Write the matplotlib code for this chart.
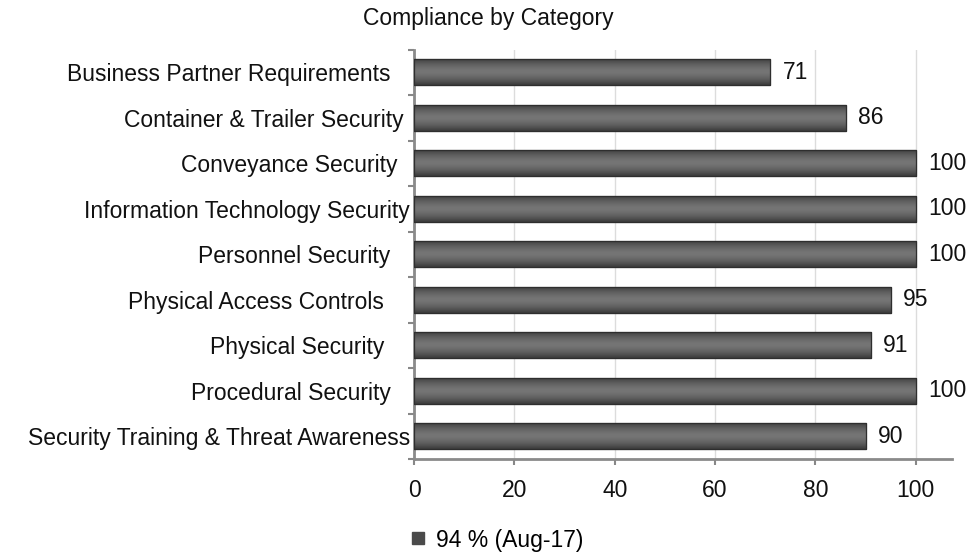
import matplotlib
matplotlib.use("Agg")
import matplotlib.pyplot as plt
import numpy as np
from matplotlib.patches import Rectangle
from matplotlib.lines import Line2D

plt.rcParams['font.family'] = ['Liberation Sans', 'DejaVu Sans']

categories = [
    "Business Partner Requirements   ",
    "Container & Trailer Security ",
    "Conveyance Security  ",
    "Information Technology Security",
    "Personnel Security   ",
    "Physical Access Controls    ",
    "Physical Security    ",
    "Procedural Security   ",
    "Security Training & Threat Awareness",
]
values = [71, 86, 100, 100, 100, 95, 91, 100, 90]
xticks = [0, 20, 40, 60, 80, 100]
title = "Compliance by Category"
legend_label = "94 % (Aug-17)"

FS = 16.5
fig = plt.figure(figsize=(9.71, 5.52), dpi=100)
ax = fig.add_axes([414/971, 1-459/552, (952-414)/971, (459-49.5)/552])

n = len(categories)
y = np.arange(n)
bar_h = 0.58
bars = ax.barh(y, values, height=bar_h, color="#5a5a5a", edgecolor="#2e2e2e", linewidth=0.8, zorder=3)

# cylinder-like gradient shading
grad = np.abs(np.linspace(-1, 1, 64))
shade = 0.46 - 0.23 * grad**1.6
img = np.dstack([shade, shade, shade]).reshape(64, 1, 3)
for b in bars:
    x0, y0 = b.get_x(), b.get_y()
    w, h = b.get_width(), b.get_height()
    im = ax.imshow(img, extent=(x0, x0 + w, y0, y0 + h), aspect="auto",
                   interpolation="bicubic", zorder=3.5, origin="lower")
    im.set_clip_path(b)
    ax.add_patch(Rectangle((x0, y0), w, h, fill=False, edgecolor="#2e2e2e", linewidth=0.9, zorder=4))

for yi, v in zip(y, values):
    ax.annotate(str(v), (v, yi), xytext=(9, 0), textcoords="offset points",
                va="center", ha="left", fontsize=FS, color="#111111", zorder=5)

ax.set_xlim(0, 107.2)
ax.set_ylim(n - 0.5, -0.5)
ax.set_yticks(y)
ax.set_yticklabels(categories, fontsize=FS, color="#111111")
ax.set_yticks(np.arange(n + 1) - 0.5, minor=True)
ax.set_xticks(xticks)
ax.set_xticklabels([str(t) for t in xticks], fontsize=FS, color="#111111")

ax.tick_params(axis="y", which="major", length=0, pad=3)
ax.tick_params(axis="y", which="minor", length=4, width=1.5, color="#888888")
ax.tick_params(axis="x", which="major", length=4.5, width=1.5, color="#888888", pad=10)

ax.grid(axis="x", color="#dcdcdc", linewidth=1, zorder=0)
for s in ["top", "right"]:
    ax.spines[s].set_visible(False)
for s in ["left", "bottom"]:
    ax.spines[s].set_color("#8a8a8a")
    ax.spines[s].set_linewidth(2)

fig.text(488/971, 1-18/552, title, ha="center", va="center", fontsize=FS, color="#111111")

handle = Line2D([], [], marker="s", linestyle="none", markersize=8.5,
                markerfacecolor="#4a4a4a", markeredgecolor="#4a4a4a")
fig.legend([handle], [legend_label], loc="center", bbox_to_anchor=(494/971, 1-540/552),
           frameon=False, fontsize=FS, handletextpad=0.2, handlelength=1.2, borderpad=0)

fig.savefig("out.png", dpi=100)
